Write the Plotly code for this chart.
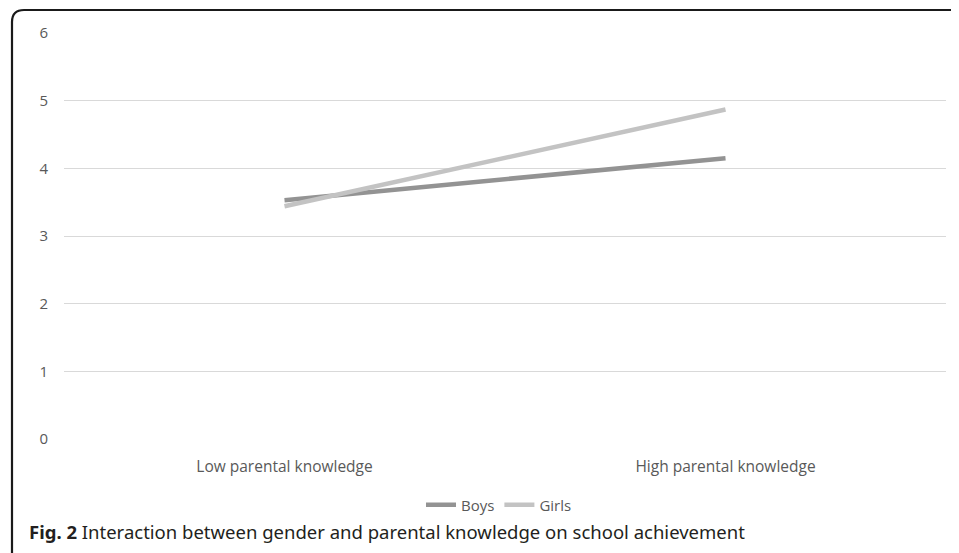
import plotly.graph_objects as go

categories = ["Low parental knowledge", "High parental knowledge"]
boys = [3.53, 4.15]
girls = [3.44, 4.87]
y_ticks = [0, 1, 2, 3, 4, 5, 6]
caption_bold = "Fig. 2"
caption_text = "Interaction between gender and parental knowledge on school achievement"

OFF = 8  # page body margin
W, H = 959 - OFF, 553 - OFF
ML, MR, MT, MB = 64 - OFF, 13, 33 - OFF, 553 - 439
PW, PH = W - ML - MR, H - MT - MB

def px(x):
    # reference-screen x pixel -> paper
    return (x - OFF - ML) / PW

def py(y):
    # reference-screen y pixel -> paper
    return (H - MB - (y - OFF)) / PH

fig = go.Figure()
fig.add_trace(go.Scatter(x=categories, y=boys, mode="lines", name="Boys",
                         line=dict(color="#939393", width=4.5)))
fig.add_trace(go.Scatter(x=categories, y=girls, mode="lines", name="Girls",
                         line=dict(color="#c3c3c3", width=4.5)))

border = (f"M {px(12)},{py(570)} L {px(12)},{py(22)} "
          f"Q {px(12)},{py(10)} {px(24)},{py(10)} L {px(975)},{py(10)}")

fig.update_layout(
    width=W, height=H,
    margin=dict(l=ML, r=MR, t=MT, b=MB),
    paper_bgcolor="white", plot_bgcolor="white",
    font=dict(family="Open Sans, sans-serif", color="#595959", size=15),
    xaxis=dict(type="category", range=[-0.5, 1.5], showgrid=False, zeroline=False,
               showline=False, ticks="", tickfont=dict(size=15.5, color="#595959"),
               ticklabelstandoff=16),
    yaxis=dict(range=[0, 6], tickvals=y_ticks, showgrid=True, gridcolor="#d9d9d9",
               gridwidth=1, zeroline=False, showline=False, ticks="",
               tickfont=dict(size=15, color="#595959"), ticklabelstandoff=15),
    showlegend=True,
    legend=dict(orientation="h", x=px(499), xanchor="center", y=py(505), yanchor="middle",
                font=dict(size=15, color="#595959"), itemwidth=30,
                tracegroupgap=0, bgcolor="rgba(0,0,0,0)"),
    shapes=[dict(type="path", path=border, xref="paper", yref="paper",
                 line=dict(color="#1a1a1a", width=2.2), layer="above")],
    annotations=[dict(x=px(27), y=py(531), xref="paper", yref="paper",
                      xanchor="left", yanchor="middle", showarrow=False,
                      text=f"<b>{caption_bold}</b> {caption_text}",
                      font=dict(family="Noto Sans, Open Sans, sans-serif", size=18.5, color="#231f20"))],
)

fig.write_html("out.html")
